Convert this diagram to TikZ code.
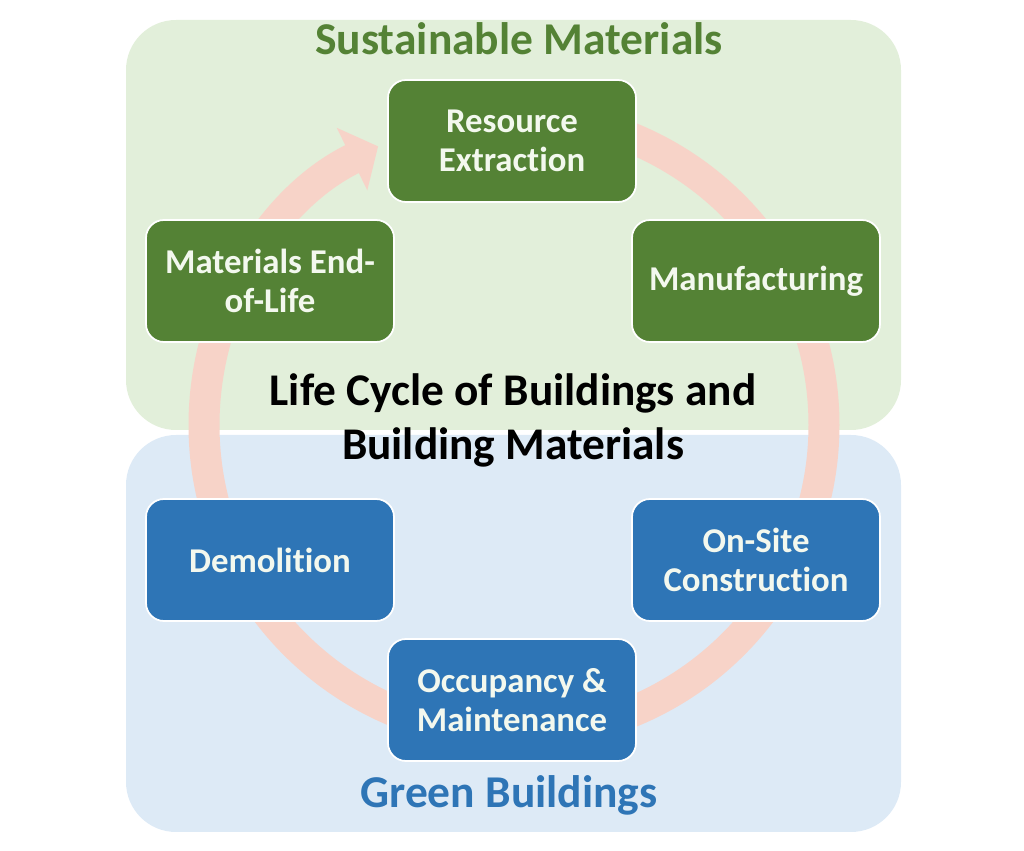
\documentclass[tikz,border=0pt]{standalone}
\usepackage{fontspec}
\setmainfont{Carlito}[Ligatures=NoCommon]
\usepackage{tikz}
\usetikzlibrary{arrows.meta}
\definecolor{greenbg}{HTML}{E2EFDA}
\definecolor{bluebg}{HTML}{DDEAF6}
\definecolor{greenbox}{HTML}{548235}
\definecolor{bluebox}{HTML}{2E75B6}
\definecolor{ringpink}{HTML}{F7D3C8}
\definecolor{boxtext}{HTML}{F3F8EE}

\begin{document}
\begin{tikzpicture}[
    stage/.style={rounded corners=0.36cm, minimum width=4.96cm, minimum height=2.44cm,
      draw=white, line width=1pt, text=boxtext, align=center, inner sep=0pt,
      font=\fontsize{19.8}{21.8}\selectfont\bfseries},
    region/.style={rounded corners=1cm},
    heading/.style={anchor=base, font=\fontsize{25.9}{30}\selectfont\bfseries}]
      \useasboundingbox (0,0) rectangle (20.48,17.02);

      % Draw the two background regions
      \fill[region, greenbg] (2.52,8.42) rectangle (18.02,16.62);
      \fill[region, bluebg] (2.52,0.38) rectangle (18.02,8.32);

      % Draw the cycle ring with its arrow
      \draw[ringpink, line width=0.62cm, -{Triangle[width=1.36cm, length=0.58cm]}]
        (10.28,8.52) ++(90:6.2) arc[start angle=90, end angle=-244, radius=6.2];

      % Region headings
      \node[heading, text=greenbox] (sustain) at (10.38,15.92) {Sustainable Materials};
      \node[heading, text=bluebox] (greenbld) at (10.18,0.86) {Green Buildings};

      % Centre title
      \node[align=center, font=\fontsize{25.8}{30.7}\selectfont\bfseries] (title) at (10.26,8.62)
        {Life Cycle of Buildings and\\Building Materials};

      % Stages of the cycle
      \node[stage, fill=greenbox] (resource) at (10.24,14.2) {Resource\\Extraction};
      \node[stage, fill=greenbox] (manuf) at (15.12,11.4) {Manufacturing};
      \node[stage, fill=bluebox] (onsite) at (15.12,5.82) {On-Site\\Construction};
      \node[stage, fill=bluebox] (occupancy) at (10.24,3.02) {Occupancy \&\\Maintenance};
      \node[stage, fill=bluebox] (demolition) at (5.4,5.82) {Demolition};
      \node[stage, fill=greenbox] (endlife) at (5.4,11.4) {Materials End-\\of-Life};
\end{tikzpicture}
\end{document}
